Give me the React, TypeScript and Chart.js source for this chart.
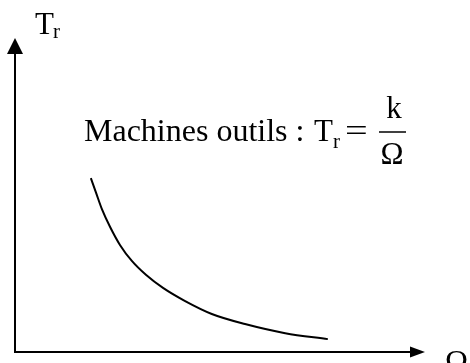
import React, { useEffect, useRef } from "react";
import { Chart, registerables } from "chart.js";

Chart.register(...registerables);

// Curve T_r = k / Ω (arbitrary units)
const omega = [1.85, 1.98, 2.12, 2.32, 2.56, 2.85, 3.2, 3.61, 4.15, 4.8, 5.61, 6.59, 7.63];
const torque = [5.54, 5.06, 4.55, 3.98, 3.41, 2.9, 2.45, 2.04, 1.62, 1.21, 0.89, 0.6, 0.41];

const xAxisTitle = "Ω";
const yAxisTitle = "T";
const ySub = "r";
const captionText = "Machines outils :";

const SERIF = "'Liberation Serif', 'Times New Roman', serif";

const decorPlugin = {
  id: "decor",
  afterDraw(chart: any) {
    const ctx = chart.ctx as CanvasRenderingContext2D;
    const xs = chart.scales.x;
    const ys = chart.scales.y;
    const x0 = xs.getPixelForValue(xs.min);
    const x1 = xs.getPixelForValue(xs.max);
    const y0 = ys.getPixelForValue(ys.min);
    const y1 = ys.getPixelForValue(ys.max);
    ctx.save();
    ctx.strokeStyle = "#000";
    ctx.fillStyle = "#000";
    ctx.lineWidth = 2;
    // y axis
    ctx.beginPath();
    ctx.moveTo(x0, y0 + 1);
    ctx.lineTo(x0, y1 + 14);
    ctx.stroke();
    ctx.beginPath();
    ctx.moveTo(x0, y1);
    ctx.lineTo(x0 - 8, y1 + 16);
    ctx.lineTo(x0 + 8, y1 + 16);
    ctx.closePath();
    ctx.fill();
    // x axis
    ctx.beginPath();
    ctx.moveTo(x0 - 1, y0);
    ctx.lineTo(x1 - 13, y0);
    ctx.stroke();
    ctx.beginPath();
    ctx.moveTo(x1, y0);
    ctx.lineTo(x1 - 15, y0 - 5.5);
    ctx.lineTo(x1 - 15, y0 + 5.5);
    ctx.closePath();
    ctx.fill();

    ctx.textBaseline = "alphabetic";
    ctx.textAlign = "left";
    // y axis title
    ctx.font = `31px ${SERIF}`;
    ctx.fillText(yAxisTitle, 35, 34);
    ctx.font = `21px ${SERIF}`;
    ctx.fillText(ySub, 53, 38);
    // x axis title
    ctx.font = `31px ${SERIF}`;
    ctx.fillText(xAxisTitle, 445, 372);

    // caption
    ctx.font = `32px ${SERIF}`;
    ctx.fillText(captionText, 84, 141);
    ctx.font = `31px ${SERIF}`;
    ctx.fillText("T", 314, 141);
    ctx.font = `21px ${SERIF}`;
    ctx.fillText("r", 333, 148);
    ctx.font = `31px ${SERIF}`;
    ctx.save();
    ctx.translate(345, 141);
    ctx.scale(1.3, 1);
    ctx.fillText("=", 0, 0);
    ctx.restore();
    ctx.textAlign = "center";
    ctx.fillText("k", 394, 118);
    ctx.fillText("Ω", 392, 164);
    ctx.lineWidth = 1.5;
    ctx.beginPath();
    ctx.moveTo(379, 132);
    ctx.lineTo(406, 132);
    ctx.stroke();
    ctx.restore();
  },
};

export default function App() {
  const ref = useRef<HTMLCanvasElement | null>(null);
  useEffect(() => {
    if (!ref.current) return;
    const chart = new Chart(ref.current, {
      type: "scatter",
      data: {
        datasets: [
          {
            data: omega.map((x, i) => ({ x, y: torque[i] })),
            showLine: true,
            borderColor: "#000",
            borderWidth: 2,
            pointRadius: 0,
            cubicInterpolationMode: "monotone",
            fill: false,
          },
        ],
      },
      options: {
        animation: false,
        responsive: false,
        events: [],
        layout: { padding: { left: 15, top: 38, right: 45, bottom: 11 } },
        plugins: { legend: { display: false }, tooltip: { enabled: false } },
        scales: {
          x: { type: "linear", min: 0, max: 10, display: false },
          y: { type: "linear", min: 0, max: 10, display: false },
        },
      },
      plugins: [decorPlugin],
    });
    return () => chart.destroy();
  }, []);
  return (
    <div style={{ position: "fixed", left: 0, top: 0, width: 470, height: 363, background: "#fff" }}>
      <canvas ref={ref} width={470} height={363} />
    </div>
  );
}
